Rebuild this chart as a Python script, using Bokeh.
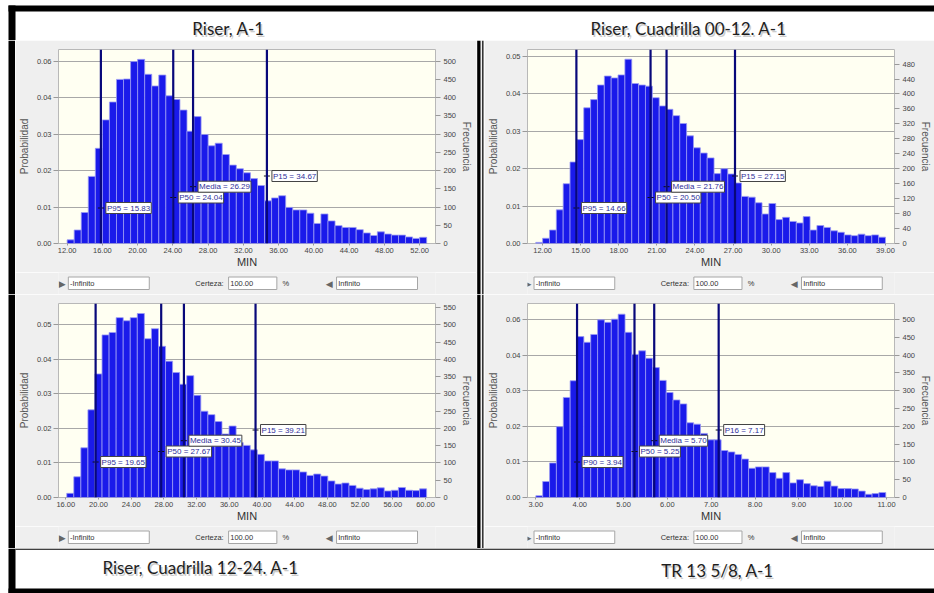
import numpy as np
from bokeh.plotting import figure
from bokeh.layouts import row, column
from bokeh.models import Range1d, LinearAxis, FixedTicker, Span, Label, PrintfTickFormatter, BoxAnnotation
from bokeh.core.properties import value
from bokeh.embed import file_html
from bokeh.resources import INLINE

# ---------------- data ----------------
titles_top = ["Riser, A-1", "Riser, Cuadrilla 00-12. A-1"]
titles_bottom = ["Riser, Cuadrilla 12-24. A-1", "TR 13 5/8, A-1"]

# Top-left: Riser, A-1
tl_bin_start, tl_bin_width = 12.0, 0.8
tl_freq = [10, 37, 85, 184, 261, 339, 388, 450, 451, 499, 505, 464, 432, 462, 405, 395, 366,
           308, 348, 299, 268, 275, 244, 215, 205, 194, 178, 159, 117, 125, 131, 99, 92, 92,
           83, 55, 81, 62, 49, 44, 44, 38, 29, 22, 32, 26, 23, 23, 18, 14, 17]
tl_pct_names = ["P95", "P50", "Media", "P15"]
tl_pct_values = [15.83, 24.04, 26.29, 34.67]
tl_x_ticks = [12, 16, 20, 24, 28, 32, 36, 40, 44, 48, 52]
tl_prob_ticks = [0, 100, 200, 300, 400, 500]
tl_prob_labels = ["0.00", "0.01", "0.02", "0.03", "0.04", "0.06"]
tl_freq_ticks = [0, 50, 100, 150, 200, 250, 300, 350, 400, 450, 500]

# Top-right: Riser, Cuadrilla 00-12. A-1
tr_bin_start, tr_bin_width = 11.46, 0.54
tr_freq = [3, 14, 36, 90, 160, 218, 278, 363, 385, 424, 448, 443, 451, 493, 428, 424, 421,
           390, 368, 359, 342, 321, 288, 256, 242, 229, 187, 200, 186, 162, 126, 124, 109, 79,
           107, 64, 70, 59, 55, 72, 36, 48, 43, 34, 30, 23, 21, 25, 21, 23, 17]
tr_pct_names = ["P95", "P50", "Media", "P15"]
tr_pct_values = [14.66, 20.50, 21.76, 27.15]
tr_x_ticks = [12, 15, 18, 21, 24, 27, 30, 33, 36, 39]
tr_prob_ticks = [0, 100, 200, 300, 400, 500]
tr_prob_labels = ["0.00", "0.01", "0.02", "0.03", "0.04", "0.05"]
tr_freq_ticks = [0, 40, 80, 120, 160, 200, 240, 280, 320, 360, 400, 440, 480]

# Bottom-left: Riser, Cuadrilla 12-24. A-1
bl_bin_start, bl_bin_width = 16.12, 0.863
bl_freq = [12, 60, 144, 254, 358, 471, 478, 521, 512, 521, 533, 460, 489, 438, 395, 362, 328,
           353, 296, 250, 240, 220, 184, 207, 159, 151, 138, 125, 106, 106, 83, 80, 80, 74,
           64, 68, 62, 48, 39, 42, 35, 27, 23, 25, 28, 19, 21, 29, 21, 20, 25]
bl_pct_names = ["P95", "P50", "Media", "P15"]
bl_pct_values = [19.65, 27.67, 30.45, 39.21]
bl_x_ticks = [16, 20, 24, 28, 32, 36, 40, 44, 48, 52, 56, 60]
bl_prob_ticks = [0, 100, 200, 300, 400, 500]
bl_prob_labels = ["0.00", "0.01", "0.02", "0.03", "0.04", "0.05"]
bl_freq_ticks = [0, 50, 100, 150, 200, 250, 300, 350, 400, 450, 500, 550]

# Bottom-right: TR 13 5/8, A-1
br_bin_start, br_bin_width = 3.0, 0.1565
br_freq = [5, 45, 97, 199, 281, 328, 452, 436, 458, 499, 492, 501, 515, 464, 402, 412, 391,
           365, 329, 295, 274, 263, 210, 206, 180, 162, 162, 132, 128, 121, 108, 82, 86, 86,
           70, 54, 70, 41, 50, 39, 33, 31, 46, 32, 25, 25, 24, 18, 9, 11, 14]
br_pct_names = ["P90", "P50", "Media", "P16"]
br_pct_values = [3.94, 5.25, 5.70, 7.17]
br_x_ticks = [3, 4, 5, 6, 7, 8, 9, 10, 11]
br_prob_ticks = [0, 100, 200, 300, 400, 500]
br_prob_labels = ["0.00", "0.01", "0.02", "0.03", "0.04", "0.06"]
br_freq_ticks = [0, 50, 100, 150, 200, 250, 300, 350, 400, 450, 500]

ctrl_texts = ["-Infinito", "Certeza:", "100.00", "%", "Infinito"]

# ---------------- style ----------------
PANEL = "#efefef"
PLOT_BG = "#fffff2"
BAR = "#1a1aea"
BAR_LINE = "#9a9af4"
NAVY = "#08087a"
FONT = "Liberation Sans"
FRAME_H = 194
LABEL_OFFSETS = [35.5, 46.0, 56.8, 67.5]

W_MARGIN = 15          # white page margin (8) + black frame strip (7)
W_LEFT, W_DIV, W_RIGHT = 461, 8, 450
TOTAL_W = W_MARGIN + W_LEFT + W_DIV + W_RIGHT   # 934
H_HEADER, H_CHART, H_CTRL, H_FOOTER = 40, 232, 22, 45


def base_fig(width, height, bg):
    p = figure(width=width, height=height, x_range=Range1d(0, width), y_range=Range1d(height, 0),
               output_backend="svg", toolbar_location=None, min_border=0,
               x_axis_location=None, y_axis_location=None,
               background_fill_color=bg, border_fill_color=bg, outline_line_color=None)
    p.xgrid.visible = False
    p.ygrid.visible = False
    return p


def make_chart(width, mb_left, mb_right, box_lr, x_rng, y_top, bin_start, bin_width, freq,
               x_ticks, prob_ticks, prob_labels, freq_ticks, pct_names, pct_values):
    p = figure(width=width, height=H_CHART, x_range=Range1d(*x_rng), y_range=Range1d(0, y_top),
               output_backend="svg", toolbar_location=None,
               min_border_left=mb_left, min_border_right=mb_right,
               min_border_top=9, min_border_bottom=29,
               background_fill_color=PLOT_BG, border_fill_color=PANEL,
               outline_line_color="#b8b8b8")
    # panel box border (canvas pixels)
    p.add_layout(BoxAnnotation(left=box_lr[0], right=box_lr[1], top=0.5, bottom=H_CHART + 2,
                               left_units="canvas", right_units="canvas",
                               top_units="canvas", bottom_units="canvas",
                               fill_color=None, line_color="#c6c6c6", line_width=1,
                               level="underlay"))
    n = len(freq)
    lefts = bin_start + bin_width * np.arange(n)
    p.quad(left=lefts, right=lefts + bin_width, bottom=0, top=freq,
           fill_color=BAR, line_color=BAR_LINE, line_width=0.8)

    xa = p.xaxis[0]
    xa.ticker = FixedTicker(ticks=x_ticks)
    xa.formatter = PrintfTickFormatter(format="%.2f")
    xa.axis_label = "MIN"
    ya = p.yaxis[0]
    ya.ticker = FixedTicker(ticks=prob_ticks)
    ya.major_label_overrides = {t: l for t, l in zip(prob_ticks, prob_labels)}
    ya.axis_label = "Probabilidad"
    ra = LinearAxis(ticker=FixedTicker(ticks=freq_ticks), axis_label="Frecuencia")
    p.add_layout(ra, "right")
    for ax in (xa, ya, ra):
        ax.axis_line_color = None
        ax.major_tick_line_color = "#999999"
        ax.minor_tick_line_color = None
        ax.major_tick_in = 0
        ax.major_label_text_font = FONT
        ax.major_label_text_font_size = "7.5px"
        ax.major_label_text_color = "#444444"
        ax.axis_label_text_font = FONT
        ax.axis_label_text_font_style = "normal"
        ax.axis_label_text_font_size = "10px"
        ax.axis_label_text_color = "#555555"
    xa.major_tick_out = 2
    xa.major_label_standoff = 2
    xa.axis_label_standoff = 0
    xa.axis_label_text_font_size = "11px"
    xa.axis_label_text_color = "#333333"
    ya.major_tick_out = 5
    ya.major_label_standoff = 2
    ya.axis_label_standoff = 4
    ra.major_tick_out = 5
    ra.major_label_standoff = 3
    ra.axis_label_standoff = 2

    p.xgrid.visible = False
    p.ygrid.ticker = FixedTicker(ticks=prob_ticks)
    p.ygrid.grid_line_color = "#a8a8a8"
    p.ygrid.grid_line_width = 1

    for v in pct_values:
        p.add_layout(Span(location=v, dimension="height", line_color=NAVY, line_width=2.2))
    ys = [o * y_top / FRAME_H for o in LABEL_OFFSETS]
    p.scatter(x=pct_values, y=ys, marker="dash", size=6, line_color="#111111", line_width=1)
    for nm, v, yy in zip(pct_names, pct_values, ys):
        p.add_layout(Label(x=v, y=yy, x_offset=5, text=f"{nm} = {v:.2f}",
                           text_baseline="middle", text_font=FONT, text_font_size="8px",
                           text_color="#30309a", background_fill_color="white",
                           border_line_color="#444444", border_line_width=1, padding=1))
    p.add_layout(Label(x=x_rng[0], y=0, x_offset=-4, text="\u25B6", text_align="center",
                       text_baseline="middle", text_font="DejaVu Sans", text_font_size="9px",
                       text_color="#7a7a7a"))
    p.add_layout(Label(x=x_rng[1], y=0, x_offset=5, text="\u25C0", text_align="center",
                       text_baseline="middle", text_font="DejaVu Sans", text_font_size="9px",
                       text_color="#7a7a7a"))
    return p


def make_controls(width, dx):
    p = base_fig(width, H_CTRL, PANEL)
    p.quad(left=[12 + dx, 208 + dx, 340 + dx], right=[111 + dx, 267 + dx, 439 + dx],
           top=[4.5] * 3, bottom=[17] * 3,
           fill_color="white", line_color="#a6a6a6", line_width=1)
    p.text(x=[14 + dx, 202 + dx, 210 + dx, 278 + dx, 342 + dx], y=[11] * 5, text=ctrl_texts,
           text_align=["left", "right", "left", "center", "left"], text_baseline="middle",
           text_font=value(FONT), text_font_size="7.5px", text_color="#333333")
    p.text(x=[4.5 + dx, 331 + dx], y=[11, 11], text=["\u25B6", "\u25C0"], text_align="center",
           text_baseline="middle", text_font=value("DejaVu Sans"), text_font_size="9px",
           text_color="#666666")
    return p


def make_margin(height):
    p = base_fig(W_MARGIN, height, "white")
    p.quad(left=[8], right=[W_MARGIN], top=[0], bottom=[height], fill_color="black", line_color=None)
    return p


def make_divider(height):
    p = base_fig(W_DIV, height, PANEL)
    p.quad(left=[0.7, 5.6], right=[4.0, 7.0], top=[0, 0], bottom=[height, height],
           fill_color=["black", "#222222"], line_color=None)
    return p


# header
header = base_fig(TOTAL_W, H_HEADER, "white")
header.quad(left=[8, 8], right=[W_MARGIN, TOTAL_W], top=[5, 5], bottom=[H_HEADER, 11],
            fill_color="black", line_color=None)
header.text(x=[229.5, 689.5], y=[29.5, 29.5], text=titles_top, text_align="center",
            text_baseline="middle", text_font=value("Lato"), text_font_size="17px",
            text_color="#cccccc")
header.text(x=[228, 688], y=[28, 28], text=titles_top, text_align="center",
            text_baseline="middle", text_font=value("Lato"), text_font_size="17px",
            text_color="#1e1e1e")

# footer
footer = base_fig(TOTAL_W, H_FOOTER, "white")
footer.quad(left=[8, W_MARGIN, 8], right=[W_MARGIN, TOTAL_W, TOTAL_W], top=[0, 0, 40],
            bottom=[H_FOOTER, 1.3, H_FOOTER], fill_color="black", line_color=None)
footer.text(x=[201.5, 718.5], y=[20.5, 23.5], text=titles_bottom, text_align="center",
            text_baseline="middle", text_font=value("Lato"), text_font_size="17px",
            text_color="#cccccc")
footer.text(x=[200, 717], y=[19, 22], text=titles_bottom, text_align="center",
            text_baseline="middle", text_font=value("Lato"), text_font_size="17px",
            text_color="#1e1e1e")

tl = make_chart(W_LEFT, 42, 41, (2, 455), (11.02, 53.8), 532, tl_bin_start, tl_bin_width, tl_freq,
                tl_x_ticks, tl_prob_ticks, tl_prob_labels, tl_freq_ticks, tl_pct_names, tl_pct_values)
tr = make_chart(W_RIGHT, 38, 34, (1, 449), (10.81, 39.71), 519, tr_bin_start, tr_bin_width, tr_freq,
                tr_x_ticks, tr_prob_ticks, tr_prob_labels, tr_freq_ticks, tr_pct_names, tr_pct_values)
bl = make_chart(W_LEFT, 42, 41, (2, 455), (15.11, 61.22), 562, bl_bin_start, bl_bin_width, bl_freq,
                bl_x_ticks, bl_prob_ticks, bl_prob_labels, bl_freq_ticks, bl_pct_names, bl_pct_values)
br = make_chart(W_RIGHT, 38, 34, (1, 449), (2.81, 11.18), 545, br_bin_start, br_bin_width, br_freq,
                br_x_ticks, br_prob_ticks, br_prob_labels, br_freq_ticks, br_pct_names, br_pct_values)

H_ROW = H_CHART + H_CTRL
row1 = row(make_margin(H_ROW), column(tl, make_controls(W_LEFT, 0)), make_divider(H_ROW),
           column(tr, make_controls(W_RIGHT, -4)))
row2 = row(make_margin(H_ROW), column(bl, make_controls(W_LEFT, 0)), make_divider(H_ROW),
           column(br, make_controls(W_RIGHT, -4)))
page = column(header, row1, row2, footer)

open("out.html", "w").write(file_html(page, INLINE))
